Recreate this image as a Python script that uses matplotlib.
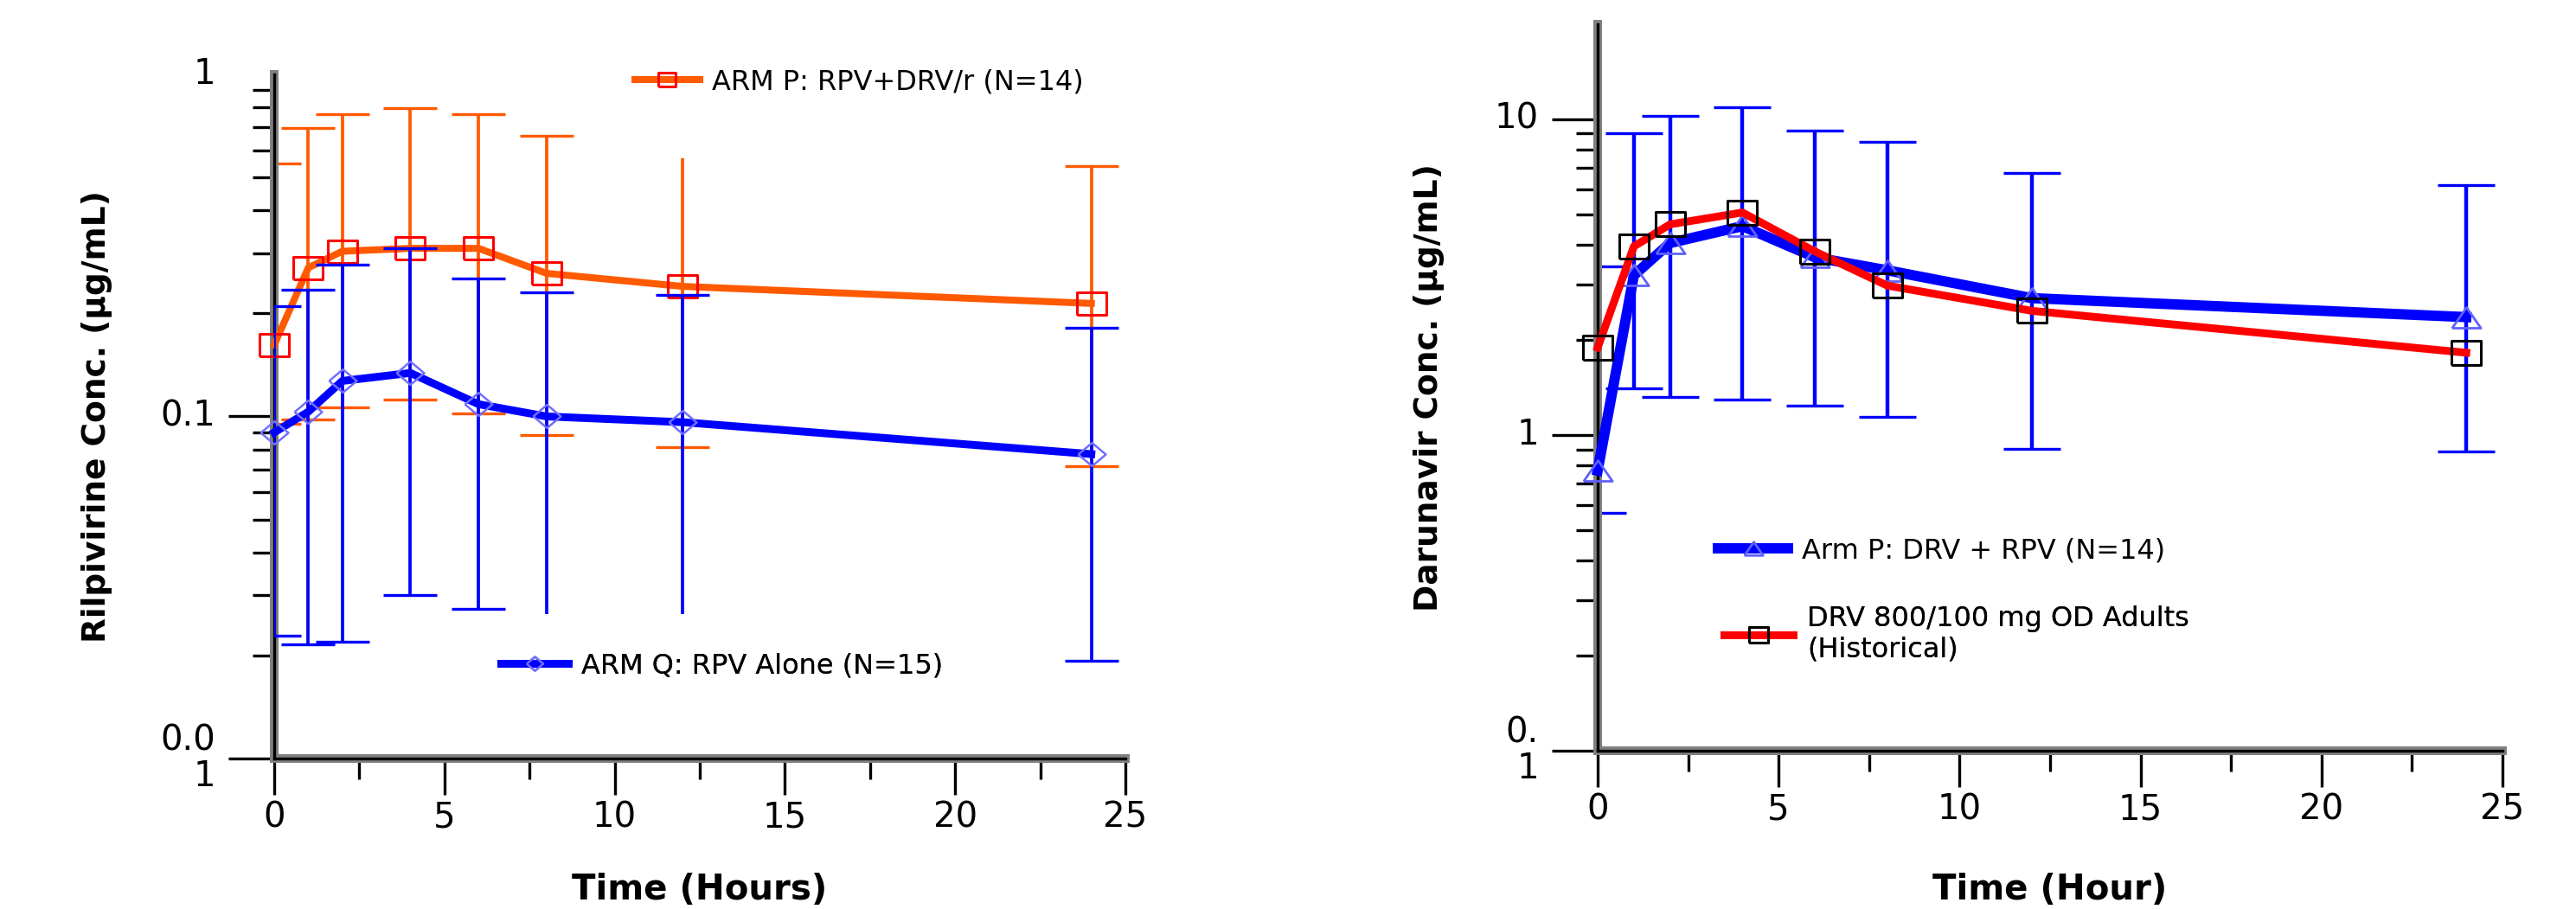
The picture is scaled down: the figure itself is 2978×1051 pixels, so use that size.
#!/usr/bin/env python3
"""
plot.py

Rilpivirine / darunavir concentration-time profiles (log scale, mean with
error bars), two panels side by side. Writes out.png.
"""

import matplotlib
matplotlib.use('Agg')
import matplotlib.pyplot as plt
from matplotlib.ticker import FixedLocator, NullFormatter
import numpy as np

plt.rcParams['font.family'] = ['DejaVu Sans', 'Noto Sans']

# ---- data ----
times = [0, 1, 2, 4, 6, 8, 12, 24]

# left panel: rilpivirine (ug/mL)
rpv_arm_p = [0.162, 0.272, 0.304, 0.310, 0.310, 0.262, 0.240, 0.214]
rpv_arm_p_lo = [0.095, 0.098, 0.106, 0.112, 0.102, 0.088, 0.0815, 0.0717]
rpv_arm_p_hi = [0.549, 0.699, 0.765, 0.797, 0.765, 0.660, 0.569, 0.540]

rpv_arm_q = [0.0898, 0.1032, 0.127, 0.134, 0.1086, 0.100, 0.0962, 0.0776]
rpv_arm_q_lo = [0.0228, 0.0216, 0.0220, 0.0301, 0.0274, 0.0264, 0.0264, 0.0193]
rpv_arm_q_hi = [0.210, 0.2346, 0.277, 0.310, 0.2526, 0.2308, 0.227, 0.1813]

# right panel: darunavir (ug/mL)
drv_arm_p = [0.771, 3.2, 4.05, 4.58, 3.65, 3.32, 2.71, 2.36]
drv_arm_p_lo = [0.567, 1.408, 1.32, 1.297, 1.238, 1.138, 0.905, 0.886]
drv_arm_p_hi = [3.42, 9.01, 10.22, 10.88, 9.19, 8.45, 6.73, 6.19]

drv_hist = [1.89, 3.95, 4.64, 5.06, 3.81, 2.97, 2.47, 1.82]

label_rpv_p = 'ARM P: RPV+DRV/r (N=14)'
label_rpv_q = 'ARM Q: RPV Alone (N=15)'
label_drv_p = 'Arm P: DRV + RPV (N=14)'
label_drv_h = 'DRV 800/100 mg OD Adults\n(Historical)'

# caps that are missing in the original figure (by point index)
rpv_p_nocap_hi = [6]
rpv_q_nocap_lo = [5, 6]

ORANGE = '#FF5A00'
BLUE = '#0000FF'
RED = '#FF0000'
SPINE_GRAY = '#808080'

TICK_FS = 29
XLABEL_FS = 29
YLABEL_FS = 27
LEGEND_FS = 23

# the source picture is a bit wider than tall, so the markers are too
RECT = [(-1, -0.79), (1, -0.79), (1, 0.79), (-1, 0.79), (-1, -0.79)]
DIAMOND = [(-1, 0), (0, 0.84), (1, 0), (0, -0.84), (-1, 0)]
TRIANGLE = [(-1, -0.72), (0, 0.72), (1, -0.72), (-1, -0.72)]


def masked(vals, skip):
    arr = np.array(vals, dtype=float)
    if skip:
        arr[list(skip)] = np.nan
    return arr


def error_bars(ax, t, mid, lo, hi, color, lw, cap_len, cap_w, z,
               skip_lo=(), skip_hi=()):
    mid = np.asarray(mid)
    yerr = [mid - np.asarray(lo), np.asarray(hi) - mid]
    ax.errorbar(t, mid, yerr=yerr, fmt='none', ecolor=color, elinewidth=lw,
                capsize=0, zorder=z)
    # caps drawn separately so single ones can be left out
    for vals, skip in ((lo, skip_lo), (hi, skip_hi)):
        ax.plot(t, masked(vals, skip), ls='none', marker='_', ms=cap_len,
                mew=cap_w, color=color, zorder=z)


def style_axes(ax, ymin, ymax, majors, major_labels, minors, xlabel, ylabel,
               xlab_y, ylab_x):
    ax.set_xlim(0, 25)
    ax.set_yscale('log')
    ax.set_ylim(ymin, ymax)

    ax.set_xticks([0, 5, 10, 15, 20, 25])
    ax.xaxis.set_minor_locator(FixedLocator([2.5, 7.5, 12.5, 17.5, 22.5]))
    ax.set_yticks(majors, labels=major_labels)
    ax.yaxis.set_minor_locator(FixedLocator(minors))
    ax.yaxis.set_minor_formatter(NullFormatter())

    ax.tick_params(axis='both', which='both', direction='out', color='black',
                   width=2.4, labelsize=TICK_FS, labelcolor='black')
    ax.tick_params(axis='y', which='major', length=38, pad=11)
    ax.tick_params(axis='y', which='minor', length=18)
    ax.tick_params(axis='x', which='major', length=30, pad=5)
    ax.tick_params(axis='x', which='minor', length=17)
    for lab in ax.get_yticklabels():
        lab.set_verticalalignment('center')
        lab.set_linespacing(1.05)

    for side in ('top', 'right'):
        ax.spines[side].set_visible(False)
    for side in ('left', 'bottom'):
        ax.spines[side].set_color(SPINE_GRAY)
        ax.spines[side].set_linewidth(7.2)
    # thin black core line inside the grey axis bars
    ax.axvline(0, color='black', lw=2.4, clip_on=False, zorder=2.6)
    ax.axhline(ymin, color='black', lw=2.4, clip_on=False, zorder=2.6)

    ax.set_xlabel(xlabel, fontsize=XLABEL_FS, fontweight='bold')
    ax.set_ylabel(ylabel, fontsize=YLABEL_FS, fontweight='bold')
    ax.xaxis.set_label_coords(0.5, xlab_y)
    ax.yaxis.set_label_coords(ylab_x, 0.5)
    ax.xaxis.label.set_verticalalignment('center')
    ax.yaxis.label.set_verticalalignment('center')


def add_legend(ax, handle, text, x, y, handlelength, textpad, markerscale):
    leg = ax.legend([handle], [text], loc='center left', bbox_to_anchor=(x, y),
                    frameon=False, fontsize=LEGEND_FS, borderpad=0,
                    borderaxespad=0, handlelength=handlelength,
                    handletextpad=textpad, markerscale=markerscale)
    ax.add_artist(leg)
    return leg


fig = plt.figure(figsize=(29.78, 10.51), dpi=100)
ax1 = fig.add_axes([0.10645, 0.16556, 0.33042, 0.75262])
ax2 = fig.add_axes([0.62021, 0.17412, 0.35124, 0.79952])

# ---- left: rilpivirine ----
error_bars(ax1, times, rpv_arm_p, rpv_arm_p_lo, rpv_arm_p_hi, ORANGE,
           2.7, 45, 2.4, 2.0, skip_hi=rpv_p_nocap_hi)
line_p, = ax1.plot(times, rpv_arm_p, color=ORANGE, lw=5.8, marker=RECT,
                   ms=24.5, mfc='none', mec=RED, mew=2.2, clip_on=False,
                   zorder=3)
error_bars(ax1, times, rpv_arm_q, rpv_arm_q_lo, rpv_arm_q_hi, BLUE,
           2.7, 45, 2.4, 3.5, skip_lo=rpv_q_nocap_lo)
line_q, = ax1.plot(times, rpv_arm_q, color=BLUE, lw=6.5, marker=DIAMOND,
                   ms=23, mfc='none', mec='#7070FF', mew=1.8, clip_on=False,
                   zorder=4)

style_axes(ax1, 0.01, 1, [0.01, 0.1, 1], ['0.0\n1', '0.1', '1'],
           [0.02, 0.03, 0.04, 0.05, 0.06, 0.07, 0.08, 0.09,
            0.2, 0.3, 0.4, 0.5, 0.6, 0.7, 0.8, 0.9],
           'Time (Hours)', 'Rilpivirine Conc. (µg/mL)', -0.192, -0.2087)
# the top label "1" has no tick mark
ax1.yaxis.get_major_ticks()[-1].tick1line.set_visible(False)

add_legend(ax1, line_p, label_rpv_p, 0.4234, 0.9886, 2.35, 0.45, 0.6)
add_legend(ax1, line_q, label_rpv_q, 0.2663, 0.1353, 2.45, 0.45, 0.6)

# ---- right: darunavir ----
error_bars(ax2, times, drv_arm_p, drv_arm_p_lo, drv_arm_p_hi, BLUE,
           3.2, 47.5, 2.4, 2.0)
line_b, = ax2.plot(times, drv_arm_p, color=BLUE, lw=8.6, marker=TRIANGLE,
                   ms=24, mfc='none', mec='#6060FF', mew=2.0, clip_on=False,
                   zorder=3)
line_h, = ax2.plot(times, drv_hist, color=RED, lw=6.5, marker=RECT,
                   ms=25, mfc='none', mec='black', mew=2.2, clip_on=False,
                   zorder=4)

style_axes(ax2, 0.1, 20, [0.1, 1, 10], ['0.\n1', '1', '10'],
           [0.2, 0.3, 0.4, 0.5, 0.6, 0.7, 0.8, 0.9,
            2, 3, 4, 5, 6, 7, 8, 9],
           'Time (Hour)', 'Darunavir Conc. (µg/mL)', -0.1917, -0.1864)

add_legend(ax2, line_b, label_drv_p, 0.1329, 0.275, 2.55, 0.5, 0.65)
leg_h = add_legend(ax2, line_h, label_drv_h, 0.1396, 0.1603, 2.5, 0.52, 0.65)
leg_h.get_texts()[0].set_linespacing(1.2)

fig.savefig('out.png', dpi=100)
print('Wrote out.png')
